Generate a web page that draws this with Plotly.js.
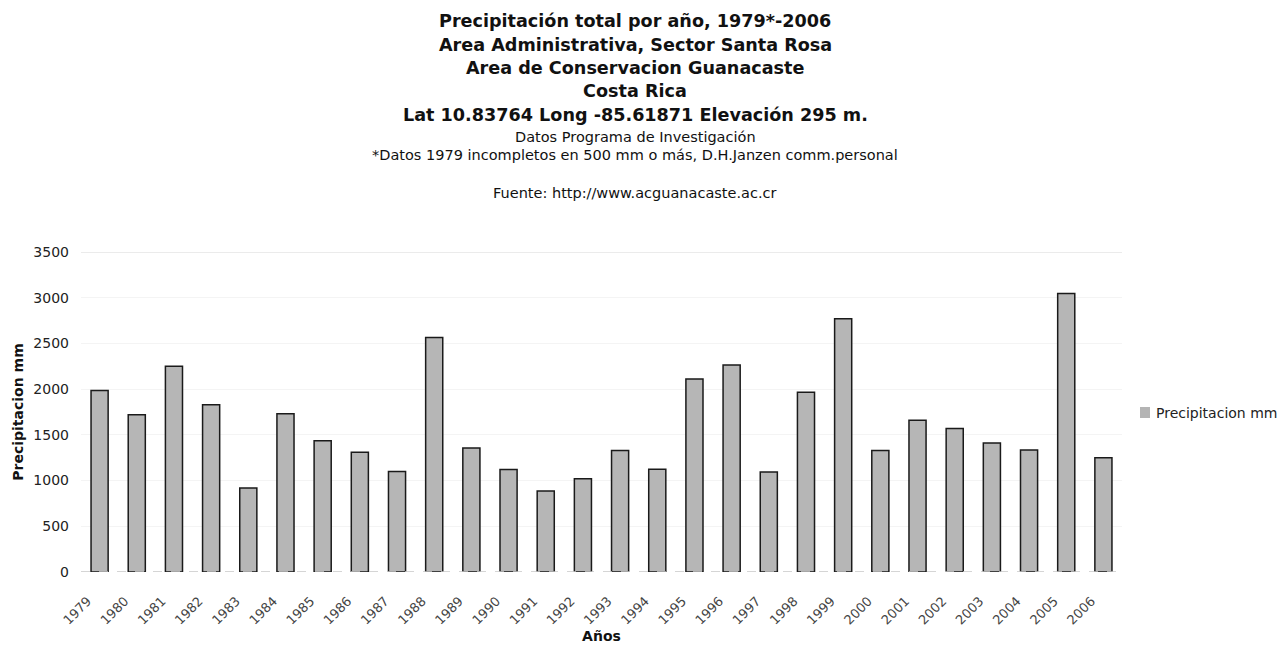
<!DOCTYPE html>
<html>
<head>
<meta charset="utf-8">
<script src="https://cdn.plot.ly/plotly-3.0.1.min.js"></script>
<style>html,body{margin:0;padding:0;background:#fff;}#chart{width:1286px;height:647px;}</style>
</head>
<body>
<div id="chart"></div>
<script>
const years = ['1979','1980','1981','1982','1983','1984','1985','1986','1987','1988','1989','1990','1991','1992','1993','1994','1995','1996','1997','1998','1999','2000','2001','2002','2003','2004','2005','2006'];
const precipitacion = [1985,1720,2250,1830,920,1730,1435,1310,1100,2565,1355,1120,885,1020,1330,1125,2110,2265,1095,1965,2770,1330,1660,1570,1410,1335,3045,1250];
const yTicks = [0,500,1000,1500,2000,2500,3000,3500];
const seriesName = 'Precipitacion mm';
const titleLines = [
  {text:'Precipitación total por año, 1979*-2006', size:17.6, bold:true, y:21},
  {text:'Area Administrativa, Sector Santa Rosa', size:17.6, bold:true, y:45},
  {text:'Area de Conservacion Guanacaste', size:17.6, bold:true, y:68},
  {text:'Costa Rica', size:17.6, bold:true, y:91},
  {text:'Lat 10.83764 Long -85.61871 Elevación 295 m.', size:17.6, bold:true, y:115},
  {text:'Datos Programa de Investigación', size:14.5, bold:false, y:137},
  {text:'*Datos 1979 incompletos en 500 mm o más, D.H.Janzen comm.personal', size:14.5, bold:false, y:155},
  {text:'Fuente: http://www.acguanacaste.ac.cr', size:14.5, bold:false, y:193}
];

const FONT = 'DejaVu Sans, Verdana, sans-serif';
const W = 1286, H = 647;
const ml = 81, mr = 164, mt = 252, mb = 75;
const pw = W - ml - mr, ph = H - mt - mb;
const px2x = p => (p - ml) / pw;
const py2y = p => (H - mb - p) / ph;

const annotations = titleLines.map(l => ({
  text: l.bold ? '<b>'+l.text+'</b>' : l.text,
  xref:'paper', yref:'paper', x:px2x(635), xanchor:'center',
  y:py2y(l.y), yanchor:'middle',
  font:{family:FONT, size:l.size, color:'#111'},
  showarrow:false
}));
// legend entry (text + swatch)
annotations.push({
  text:seriesName, xref:'paper', yref:'paper', x:px2x(1154), xanchor:'left',
  y:py2y(413), yanchor:'middle', showarrow:false,
  font:{family:FONT, size:14, color:'#222'}
});

const trace = {
  type:'bar', x:years, y:precipitacion, name:seriesName,
  marker:{color:'#b6b6b6', line:{color:'#1a1a1a', width:1.5}},
  showlegend:false
};

const layout = {
  width:W, height:H,
  margin:{l:ml, r:mr, t:mt, b:mb},
  paper_bgcolor:'#fff', plot_bgcolor:'#fff',
  font:{family:FONT, size:12, color:'#222'},
  bargap:0.54,
  showlegend:false,
  xaxis:{type:'category', tickangle:-45, tickfont:{family:FONT, size:13, color:'#444'}, showgrid:false, zeroline:false, showline:false, ticks:'',
    ticklabelstandoff:18, ticklabelshift:-12,
    title:{text:'<b>Años</b>', font:{family:FONT, size:14, color:'#111'}, standoff:2}},
  yaxis:{range:[0,3500], tickvals:yTicks, ticktext:yTicks.map(String), showgrid:true, gridcolor:'#f4f4f4', zeroline:false, showline:false, ticks:'',
    ticklabelstandoff:11,
    tickfont:{family:FONT, size:14, color:'#222'},
    title:{text:'<b>Precipitacion mm</b>', font:{family:FONT, size:14, color:'#111'}, standoff:6}},
  shapes:[
    {type:'line', xref:'paper', yref:'y', x0:0, x1:1, y0:0, y1:0, line:{color:'#c8c8c8', width:1.5, dash:'dash'}},
    {type:'line', xref:'paper', yref:'y', x0:0, x1:1, y0:3500, y1:3500, line:{color:'#ebebeb', width:2}},
    {type:'rect', xref:'paper', yref:'paper', x0:px2x(1140), x1:px2x(1150), y0:py2y(418), y1:py2y(407), fillcolor:'#b4b4b4', line:{width:0}}
  ],
  annotations:annotations
};

Plotly.newPlot('chart', [trace], layout, {displayModeBar:false, staticPlot:true});
</script>
</body>
</html>
